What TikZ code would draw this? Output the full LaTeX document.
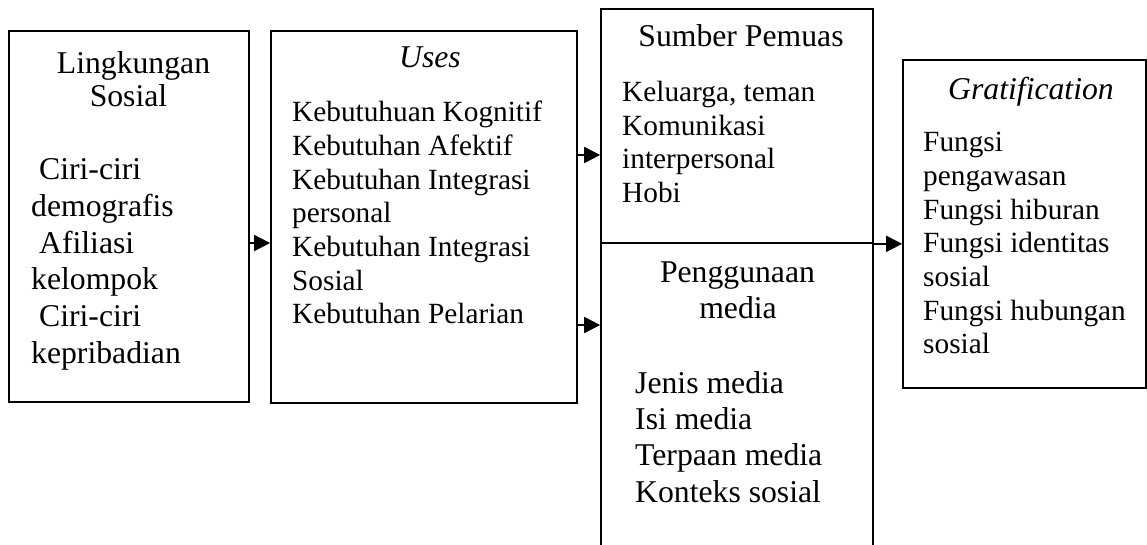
\documentclass[tikz,border=0pt]{standalone}
\usepackage{fontspec}
\setmainfont{Liberation Serif}
\usetikzlibrary{arrows.meta}

\begin{document}
\begin{tikzpicture}[x=1pt, y=-1pt,
	box/.style={draw, line width=1.7pt, inner sep=0pt},
	big/.style={font=\fontsize{31.7pt}{36.6pt}\selectfont, inner sep=0pt},
	small/.style={font=\fontsize{29.3pt}{33.6pt}\selectfont, inner sep=0pt},
	arr/.style={line width=1.7pt, -{Triangle[length=16pt, width=16pt]}}]
			%%%%% START %%%%%
			\useasboundingbox (0, 0) rectangle (1147, 545);
			
			% boxes
			\node[box, minimum width=240, minimum height=371] (lingk) at (129, 216.5) {};
			\node[box, minimum width=306, minimum height=372] (uses) at (424, 217) {};
			\node[box, minimum width=272, minimum height=234] (sumber) at (737, 126) {};
			\node[box, minimum width=272, minimum height=317] (pengg) at (737, 401.5) {};
			\node[box, minimum width=243, minimum height=328] (grat) at (1024.5, 224) {};
			
			% titles
			\node[big, anchor=base] (lingk-t1) at (133.5, 74) {Lingkungan};
			\node[big, anchor=base] (lingk-t2) at (128.5, 107) {Sosial};
			\node[big, anchor=base] (uses-t) at (430, 68) {\itshape Uses};
			\node[big, anchor=base] (sumber-t) at (741, 47) {Sumber Pemuas};
			\node[big, anchor=base] (pengg-t1) at (737.5, 282) {Penggunaan};
			\node[big, anchor=base] (pengg-t2) at (738, 318) {media};
			\node[big, anchor=base] (grat-t) at (1031, 100) {\itshape Gratification};
			
			% lists
			\foreach \t [count=\i from 0] in {\ Ciri-ciri, demografis, \ Afiliasi, kelompok, \ Ciri-ciri, kepribadian}
				\node[big, anchor=base west] (lingk-\i) at (31, 180+36.6*\i) {\t};
			\foreach \t [count=\i from 0] in {Kebutuhuan Kognitif, Kebutuhan Afektif, Kebutuhan Integrasi, personal, Kebutuhan Integrasi, Sosial, Kebutuhan Pelarian}
				\node[small, anchor=base west] (uses-\i) at (292, 122+33.6*\i) {\t};
			\foreach \t [count=\i from 0] in {{Keluarga, teman}, Komunikasi, interpersonal, Hobi}
				\node[small, anchor=base west] (sumber-\i) at (622, 102+33.5*\i) {\t};
			\foreach \t [count=\i from 0] in {Jenis media, Isi media, Terpaan media, Konteks sosial}
				\node[big, anchor=base west] (pengg-\i) at (635, 393+36.4*\i) {\t};
			\foreach \t [count=\i from 0] in {Fungsi, pengawasan, Fungsi hiburan, Fungsi identitas, sosial, Fungsi hubungan, sosial}
				\node[small, anchor=base west] (grat-\i) at (923, 152+33.6*\i) {\t};
			
			% arrows
			\draw[arr] ([yshift=-26.5pt]lingk.east) -- ([yshift=-26.5pt]lingk.east -| uses.west);
			\draw[arr] ([yshift=62pt]uses.east) -- ([yshift=62pt]uses.east -| sumber.west);
			\draw[arr] ([yshift=-108pt]uses.east) -- ([yshift=-108pt]uses.east -| pengg.west);
			\draw[arr] (sumber.south east) -- (sumber.south east -| grat.west);
			
			%%%%% END %%%%%
\end{tikzpicture}
\end{document}
